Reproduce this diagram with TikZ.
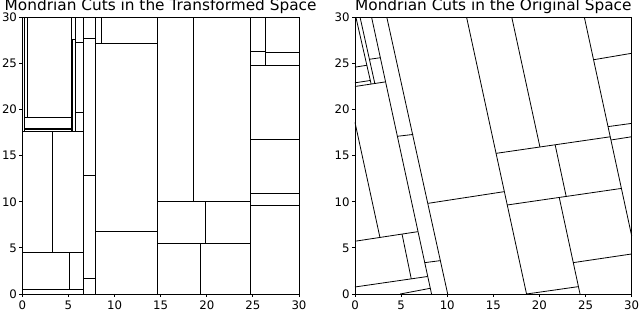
\documentclass[tikz,border=0pt]{standalone}
\usepackage{fontspec}
\setmainfont{DejaVu Sans}
\usetikzlibrary{positioning}

\begin{document}
\begin{tikzpicture}[x=0.75pt, y=0.75pt,
    panel/.style={x=6.917pt, y=6.917pt},
    frame/.style={draw, line width=0.6pt},
    cut/.style={draw, line width=0.6pt},
    tick/.style={line width=0.6pt},
    ticklabel/.style={inner sep=0pt, font=\fontsize{8.8}{10}\selectfont},
    heading/.style={inner sep=0pt, anchor=base, font=\fontsize{11.5}{13}\selectfont} ]

  \useasboundingbox (0,0) rectangle (640,311);

  \begin{scope}[shift={(16.725pt,12.75pt)}, panel]
    \foreach \xa/\ya/\xb/\yb in {0.2/17.65/0.2/30, 0.5/19.2/0.5/30, 0.2/19.2/5.35/19.2,
        0.2/18.0/5.35/18.0, 0.2/17.8/5.35/17.8, 0/17.65/6.6/17.65, 5.35/17.65/5.35/30,
        5.45/17.65/5.45/27.6, 5.35/27.6/5.8/27.6, 5.8/17.65/5.8/30, 5.8/27.3/6.6/27.3,
        5.8/19.65/6.6/19.65, 6.6/0/6.6/30, 7.9/0/7.9/30, 6.6/27.7/7.9/27.7,
        6.6/12.9/7.9/12.9, 6.6/1.7/7.9/1.7, 8.6/27.2/8.6/30, 7.9/27.2/14.7/27.2,
        7.9/6.76/14.7/6.76, 14.7/0/14.7/30, 18.55/10.08/18.55/30, 14.7/10.08/24.75/10.08,
        19.9/5.53/19.9/10.08, 14.7/5.53/24.75/5.53, 19.3/0/19.3/5.53, 24.75/0/24.75/30,
        26.4/24.8/26.4/30, 24.75/26.3/26.4/26.3, 26.4/26.2/30/26.2, 24.75/24.8/30/24.8,
        24.75/16.8/30/16.8, 24.75/10.9/30/10.9, 24.75/9.58/30/9.58, 3.3/4.48/3.3/17.65,
        0/4.48/6.6/4.48, 5.1/0.54/5.1/4.48, 0/0.54/6.6/0.54}
      \draw[cut] (\xa,\ya) -- (\xb,\yb);

    \draw[frame] (0,0) rectangle (30,30);
    \foreach \v in {0,5,...,30} {
      \draw[tick] (\v,0) -- ++(0,-2.6pt);
      \draw[tick] (0,\v) -- ++(-2.6pt,0);
      \node[ticklabel, anchor=north] (lx\v) at (\v,-0.7) {\v};
      \node[ticklabel, anchor=east] (ly\v) at (-0.55,\v) {\v};
    }
    \node[heading] (ltitle) at (15,30.7) {Mondrian Cuts in the Transformed Space};
  \end{scope}

  \begin{scope}[shift={(266.25pt,12.75pt)}, panel]
    \foreach \xa/\ya/\xb/\yb in {1.8/30/8.3/0, 3.45/30/10.05/0, 12.1/30/18.6/0,
        17.0/30/20.05/15.94, 24.87/30/30/6.3, 24.4/0/22.15/10.45,
        15.3/15.25/27.7/17.05, 16.5/9.65/28.9/11.45, 21.7/16.18/22.9/10.57,
        25.87/25.4/30/26.1, 27.44/18.15/30/18.5, 27.76/16.7/30/17.05,
        23.66/3.4/30/4.34, 18.6/0/24.23/0.8, 7.92/9.83/16.2/11.1,
        4.59/17.1/6.3/17.3, 7.56/3.4/9.27/3.62, 0/18.6/2.7/6.15,
        0/5.72/6.82/6.76, 5.1/6.5/6.1/1.64, 0/0.76/7.88/1.9, 4.9/0/8.17/0.62,
        0.1/30/1.75/22.76, 0.55/30/2.15/22.82, 0/22.9/1.66/23.15,
        0/22.5/3.31/23.0, 0/24.6/1.29/24.8, 1.56/25.45/2.75/25.62}
      \draw[cut] (\xa,\ya) -- (\xb,\yb);

    \draw[frame] (0,0) rectangle (30,30);
    \foreach \v in {0,5,...,30} {
      \draw[tick] (\v,0) -- ++(0,-2.6pt);
      \draw[tick] (0,\v) -- ++(-2.6pt,0);
      \node[ticklabel, anchor=north] (rx\v) at (\v,-0.7) {\v};
      \node[ticklabel, anchor=east] (ry\v) at (-0.55,\v) {\v};
    }
    \node[heading] (rtitle) at (15,30.7) {Mondrian Cuts in the Original Space};
  \end{scope}

\end{tikzpicture}
\end{document}
